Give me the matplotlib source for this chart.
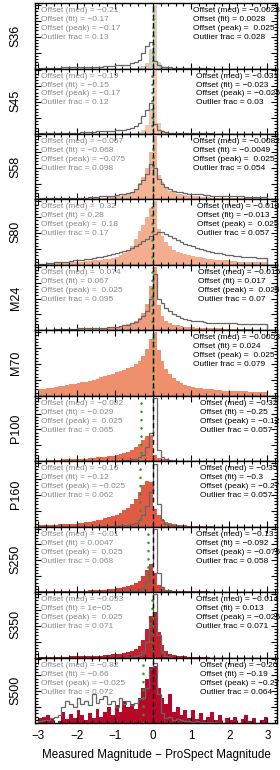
import numpy as np
import matplotlib
matplotlib.use('Agg')
import matplotlib.pyplot as plt
from matplotlib.ticker import MultipleLocator

plt.rcParams['font.family'] = ['Liberation Sans', 'DejaVu Sans']

bands = ['S36', 'S45', 'S58', 'S80', 'M24', 'M70', 'P100', 'P160', 'S250', 'S350', 'S500']
fill_colors = ['#dccdbf', '#f3c8ae', '#f5b396', '#f4ad8f', '#f09c7c', '#ee8f6e',
               '#e86a4f', '#e15a44', '#d6423a', '#c6202f', '#b8082a']

# histogram heights (% of panel height), bins of 0.1 from -3 to 3
fill_S36 = [0]*20 + [0,0,0,0,1,1,2,4,8,30] + [100,10,4,2,1,1,0,0,0,0] + [0]*20
line_S36 = [1,1,1,1,1,1,2,2,2,2, 2,2,3,3,3,3,3,4,4,4, 5,5,6,6,8,10,14,24,36,42,
            12,5,3,2,2,1,1,1,1,1, 1,1,1,1,1,0,0,0,0,0, 0,0,0,0,0,0,0,0,0,0]
fill_S45 = [0]*20 + [0,0,0,1,1,2,3,6,14,40] + [100,18,6,3,2,1,1,0,0,0] + [0]*20
line_S45 = [1,1,1,1,1,1,2,2,2,2, 2,3,3,3,3,4,4,4,5,5, 6,6,7,8,10,13,18,28,38,48,
            15,6,4,3,2,2,1,1,1,1, 1,1,1,1,1,1,0,0,0,0, 0,0,0,0,0,0,0,0,0,0]
fill_S58 = [1,1,1,1,1,1,1,1,2,2, 2,2,2,2,3,3,3,3,4,4, 5,6,7,9,12,16,26,36,50,75,
            100,38,27,19,14,11,9,8,7,6, 5,5,4,4,4,3,3,3,3,2, 2,2,2,2,2,2,2,2,1,1]
line_S58 = [2,2,2,2,2,2,2,2,3,3, 3,3,3,4,4,4,5,5,6,6, 7,8,9,10,12,16,24,30,40,55,
            50,32,25,20,16,14,12,11,10,9, 9,8,8,7,7,6,6,6,6,5, 5,5,5,5,4,4,4,4,4,4]
fill_S80 = [2,2,2,3,3,3,3,4,4,4, 5,5,6,6,7,7,8,9,10,11, 12,15,19,24,30,40,53,63,75,90,
            100,56,46,36,29,24,21,19,17,16, 14,13,12,11,10,9,8,8,7,7, 6,6,5,5,5,5,4,4,4,4]
line_S80 = [2,2,3,3,4,4,5,5,6,7, 8,8,9,10,11,12,13,14,15,17, 18,20,22,24,27,30,33,37,41,45,
            49,52,51,48,45,42,39,36,33,31, 29,27,25,23,22,21,19,18,17,16, 15,14,14,13,13,12,12,11,11,11]
fill_M24 = [1,1,1,1,1,1,2,2,2,2, 2,2,3,3,3,3,4,4,5,5, 6,7,8,10,12,15,20,28,42,70,
            100,40,22,15,11,9,8,7,6,5, 5,4,4,4,3,3,3,3,2,2, 2,2,2,2,2,2,1,1,1,1]
line_M24 = [1,1,1,1,2,2,2,2,2,2, 3,3,3,3,3,4,4,4,5,5, 6,7,8,9,11,13,18,23,30,50,
            88,50,43,35,30,26,22,20,18,17, 15,14,14,13,12,12,12,11,11,11, 11,11,10,10,10,10,10,10,10,10]
fill_M70 = [10,11,12,13,14,15,16,17,18,19, 20,21,22,23,25,27,29,31,33,35,
            37,39,41,43,46,50,55,62,74,90, 100,72,55,42,34,28,24,20,17,15,
            14,13,12,11,10,10,9,9,8,8, 8,7,7,7,7,6,6,6,6,6]
line_M70 = None
fill_P100 = [1,1,2,2,2,2,3,3,3,3, 4,4,4,5,5,6,6,7,8,9, 10,11,13,15,18,22,27,33,40,42,
             10,5,3,2,2,2,1,1,1,1, 1,1,1,1,1,1,1,1,1,1, 0,0,0,0,0,0,0,0,0,0]
line_P100 = [0]*15 + [1,1,1,1,1] + [1,1,2,2,3,4,6,10,22,45] + [100,18,6,3,2,1,1,1,1,1] + [0]*20
fill_P160 = [2,2,3,3,3,4,4,4,5,5, 6,6,7,8,9,10,11,13,15,17, 19,22,26,30,36,44,55,65,72,70,
             28,18,12,8,6,4,3,2,2,1, 1,1,1,1,1,1,0,0,0,0, 0,0,0,0,0,0,0,0,0,0]
line_P160 = [0]*15 + [1,1,1,1,1] + [1,2,2,3,4,6,10,18,32,55] + [98,35,10,4,2,1,1,0,0,0] + [0]*20
fill_S250 = [1,1,1,1,1,1,1,2,2,2, 2,2,2,3,3,3,4,4,5,5, 6,7,8,9,11,14,18,25,35,42,
             30,12,6,4,3,2,2,1,1,1, 1,1,1,1,1,0,0,0,0,0, 0,0,0,0,0,0,0,0,0,0]
line_S250 = [0]*20 + [0,0,1,1,1,2,3,6,18,45] + [100,30,8,3,1,1,0,0,0,0] + [0]*20
fill_S350 = [1,1,1,1,1,1,1,1,2,2, 2,2,2,2,3,3,3,4,4,5, 5,6,7,8,10,13,18,28,45,65,
             72,40,20,10,6,4,3,2,2,1, 1,1,1,1,1,0,0,0,0,0, 0,0,0,0,0,0,0,0,0,0]
line_S350 = [0]*20 + [0,0,0,1,1,2,4,8,25,55] + [100,35,8,3,1,0,0,0,0,0] + [0]*20
fill_S500 = [8,10,12,8,0,3,18,6,14,8, 20,12,5,15,8,22,10,18,25,12,
             28,18,35,25,30,22,40,55,70,88, 90,55,40,30,45,18,25,12,20,8,
             20,6,15,4,10,18,5,12,0,8, 5,10,0,6,12,3,8,0,4,10]
line_S500 = [3,5,5,8,10,12,25,35,30,25, 40,30,35,28,45,32,38,42,30,35,
             25,40,30,35,28,32,38,40,55,85, 95,45,15,8,10,5,6,4,3,3,
             2,3,2,1,2,1,1,0,0,0, 0,0,0,0,0,0,0,0,0,0]

fills = [fill_S36, fill_S45, fill_S58, fill_S80, fill_M24, fill_M70,
         fill_P100, fill_P160, fill_S250, fill_S350, fill_S500]
lines = [line_S36, line_S45, line_S58, line_S80, line_M24, line_M70,
         line_P100, line_P160, line_S250, line_S350, line_S500]

# annotations: (med, fit, peak, outlier)
left_stats = [('−0.21', '−0.17', '−0.17', '0.13'),
              ('−0.19', '−0.15', '−0.17', '0.12'),
              ('−0.067', '−0.068', '−0.075', '0.098'),
              ('0.32', '0.28', '0.18', '0.17'),
              ('0.074', '0.067', '0.025', '0.095'),
              None,
              ('−0.082', '−0.029', '0.025', '0.065'),
              ('−0.16', '−0.12', '−0.025', '0.062'),
              ('−0.01', '0.0047', '0.025', '0.068'),
              ('−0.053', '1e−05', '0.025', '0.071'),
              ('−0.82', '−0.66', '−0.025', '0.072')]
right_stats = [('−0.0028', '0.0028', '0.025', '0.028'),
               ('−0.031', '−0.023', '−0.025', '0.03'),
               ('−0.0082', '−0.0049', '0.025', '0.054'),
               ('−0.018', '−0.013', '0.025', '0.057'),
               ('−0.015', '0.017', '0.025', '0.07'),
               ('−0.0053', '0.024', '0.025', '0.079'),
               ('−0.32', '−0.25', '−0.12', '0.057'),
               ('−0.35', '−0.3', '−0.27', '0.057'),
               ('−0.13', '−0.092', '−0.075', '0.058'),
               ('−0.014', '0.013', '−0.025', '0.071'),
               ('−0.26', '−0.19', '−0.27', '0.064')]

right_text_x = [0.653, 0.665, 0.653, 0.67, 0.674, 0.653, 0.682, 0.682, 0.665, 0.665, 0.682]
line_y = [0.885, 0.748, 0.611, 0.474]

edges = np.linspace(-3, 3, 61)


def fmt_lines(stats):
    med, fit, peak, out = stats
    sp = lambda v: v if v.startswith('−') else ' ' + v
    return ['Offset (med) = ' + sp(med),
            'Offset (fit) = ' + fit,
            'Offset (peak) = ' + sp(peak),
            'Outlier frac = ' + out]


fig, axes = plt.subplots(len(bands), 1, figsize=(2.8, 7.7), dpi=100, sharex=True)
fig.subplots_adjust(left=0.125, right=0.989, top=0.996, bottom=0.061, hspace=0)

for i, ax in enumerate(axes):
    ax.stairs(np.array(fills[i]) / 100.0, edges, fill=True, color=fill_colors[i], lw=0, zorder=1)
    if lines[i] is not None:
        ax.stairs(np.array(lines[i]) / 100.0, edges, fill=False, color='#666666', lw=0.9, zorder=2)
    med = float(right_stats[i][0].replace('−', '-'))
    ax.axvline(med, color='#22a022', ls=(0, (0.1, 3.2)), lw=1.8, dash_capstyle='round', zorder=3)
    ax.axvline(0, color='black', ls=(0, (3.5, 2.5)), lw=1.0, zorder=4)
    ax.set_xlim(-3.09, 3.25)
    ax.set_ylim(0, 1.03)
    ax.xaxis.set_major_locator(MultipleLocator(1))
    ax.xaxis.set_minor_locator(MultipleLocator(0.2))
    ax.yaxis.set_major_locator(MultipleLocator(0.25))
    ax.yaxis.set_minor_locator(MultipleLocator(0.05))
    ax.tick_params(which='both', direction='in', top=True, right=True, width=0.8)
    ax.tick_params(which='major', length=4)
    ax.tick_params(which='minor', length=2)
    ax.set_yticklabels([])
    for s in ax.spines.values():
        s.set_linewidth(1.0)
    ax.set_ylabel(bands[i], fontsize=9, labelpad=6)
    if left_stats[i] is not None:
        for t, yy in zip(fmt_lines(left_stats[i]), line_y):
            ax.text(0.025, yy, t, transform=ax.transAxes, fontsize=6.0,
                    color='#8a8a8a', va='center', ha='left', zorder=5)
    for t, yy in zip(fmt_lines(right_stats[i]), line_y):
        ax.text(right_text_x[i], yy, t, transform=ax.transAxes, fontsize=6.0,
                color='black', va='center', ha='left', zorder=5)

axes[-1].set_xticks([-3, -2, -1, 0, 1, 2, 3])
axes[-1].set_xticklabels(['−3', '−2', '−1', '0', '1', '2', '3'], fontsize=8.4)
axes[-1].tick_params(axis='x', pad=5)
axes[-1].set_xlabel('Measured Magnitude − ProSpect Magnitude', fontsize=8.4, labelpad=5)

fig.savefig('out.png', dpi=100)
